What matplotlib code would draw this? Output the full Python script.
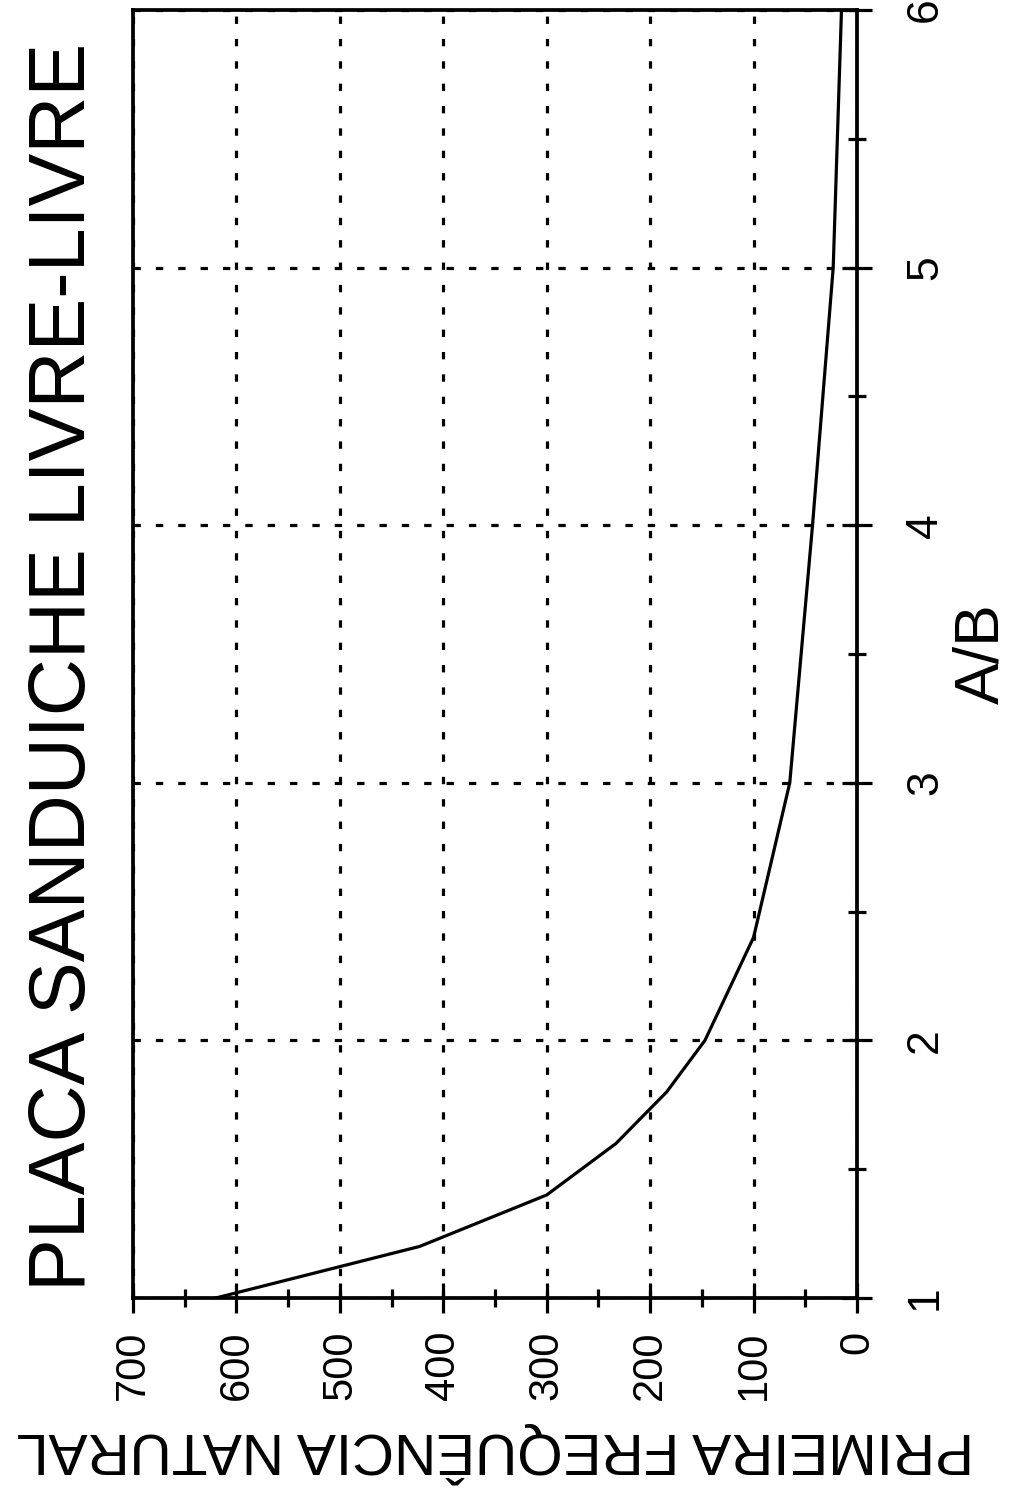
import matplotlib
matplotlib.use('Agg')
import matplotlib.pyplot as plt
from matplotlib.ticker import MultipleLocator

# ---- data ----
ab_ratio = [1.0, 1.2, 1.4, 1.6, 1.8, 2.0, 2.4, 3.0, 4.0, 5.0, 6.0]
first_freq = [620, 423, 300, 233, 184, 147, 100, 65, 43, 23, 15]
freq_ticks = [0, 100, 200, 300, 400, 500, 600, 700]
freq_tick_labels = ['0', '100', '200', '300', '400', '500', '600', '700']
ab_ticks = [1, 2, 3, 4, 5, 6]
ab_tick_labels = ['1', '2', '3', '4', '5', '6']
title_text = "PLACA SANDUICHE LIVRE-LIVRE"
freq_label = "PRIMEIRA FREQUÊNCIA NATURAL"
ab_label = "A/B"

plt.rcParams['font.family'] = ['Liberation Sans', 'DejaVu Sans']

W, H = 1016, 1490
fig = plt.figure(figsize=(W / 100, H / 100), dpi=100)
fig.patch.set_facecolor('white')

ax = fig.add_axes([133 / W, 1 - 1298 / H, (857 - 133) / W, (1298 - 10) / H])

ax.plot(first_freq, ab_ratio, color='black', lw=2.3)

ax.set_xlim(700, 0)
ax.set_ylim(1, 6)

ax.set_xticks(freq_ticks)
ax.set_xticklabels(freq_tick_labels, rotation=90, fontsize=30)
ax.xaxis.set_minor_locator(MultipleLocator(50))

ax.yaxis.tick_right()
ax.yaxis.set_label_position('right')
ax.set_yticks(ab_ticks)
ax.set_yticklabels(ab_tick_labels, rotation=90, fontsize=32, va='center')
ax.yaxis.set_minor_locator(MultipleLocator(0.5))

ax.tick_params(axis='both', which='major', direction='inout', length=21,
               width=2.3, color='black')
ax.tick_params(axis='both', which='minor', direction='inout', length=13,
               width=2.3, color='black')
ax.tick_params(axis='x', which='major', pad=13)
ax.tick_params(axis='y', which='major', pad=24)
ax.tick_params(top=False, left=False, right=True, bottom=True,
               which='both')

for sp in ax.spines.values():
    sp.set_linewidth(2.7)
    sp.set_color('black')

ax.grid(True, which='major', color='black', lw=2.3,
        linestyle=(0, (2.3, 4.7)))
ax.grid(False, which='minor')

ax.set_xlabel(freq_label, fontsize=42, rotation=180, labelpad=15)
ax.set_ylabel(ab_label, fontsize=45, rotation=90, labelpad=5)

fig.text(65 / W, 1 - 667 / H, title_text, rotation=90, fontsize=57,
         ha='center', va='center')

fig.savefig('out.png', dpi=100, facecolor='white')
